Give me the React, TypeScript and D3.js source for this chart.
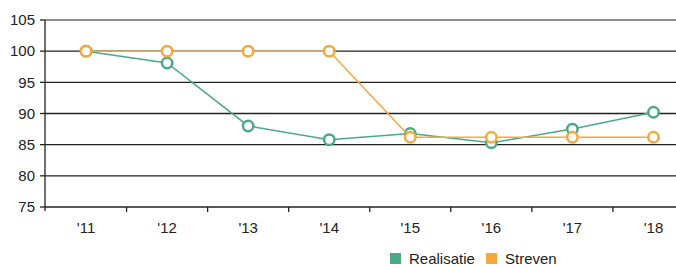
import React from "react";
import * as d3 from "d3";

const categories = ["'11", "'12", "'13", "'14", "'15", "'16", "'17", "'18"];
const realisatie = [100, 98.1, 88.0, 85.8, 86.8, 85.3, 87.5, 90.2];
const streven = [100, 100, 100, 100, 86.2, 86.2, 86.2, 86.2];
const yTicks = [75, 80, 85, 90, 95, 100, 105];
const seriesNames = ["Realisatie", "Streven"];

const W = 676;
const H = 268;
const colors = ["#4aaa88", "#f7a83a"];

export default function App() {
  const x = d3.scaleBand<string>().domain(categories).range([45.5, 694]);
  const y = d3.scaleLinear().domain([75, 105]).range([207, 20]);
  const cx = (c: string) => (x(c) as number) + x.bandwidth() / 2;
  const line = d3
    .line<number>()
    .x((_, i) => cx(categories[i]))
    .y((d) => y(d));
  const series = [realisatie, streven];
  const font = "'Liberation Sans', Arial, sans-serif";
  return (
    <svg
      width={W}
      height={H}
      style={{ position: "absolute", left: 0, top: 0, fontFamily: font }}
    >
      {yTicks.map((t) => (
        <g key={t}>
          {t !== 75 && (
            <line x1={45} x2={W} y1={y(t)} y2={y(t)} stroke={t === 105 ? "#666" : "#222"} strokeWidth={1.3} />
          )}
          <line x1={40} x2={45} y1={y(t)} y2={y(t)} stroke="#222" strokeWidth={1.3} />
          <text x={35} y={y(t)} dy="0.35em" textAnchor="end" fontSize={15} fill="#222">
            {t}
          </text>
        </g>
      ))}
      <line x1={45} x2={45} y1={y(105)} y2={211} stroke="#222" strokeWidth={1.3} />
      <line x1={45} x2={W} y1={y(75)} y2={y(75)} stroke="#222" strokeWidth={1.3} />
      {categories.slice(1).map((c) => (
        <line key={c} x1={x(c) as number} x2={x(c) as number} y1={207} y2={212} stroke="#222" strokeWidth={1.3} />
      ))}
      {categories.map((c) => (
        <text key={c} x={cx(c)} y={233} textAnchor="middle" fontSize={15} fill="#222">
          {c}
        </text>
      ))}
      {series.map((s, si) => (
        <g key={si}>
          <path d={line(s) as string} fill="none" stroke={colors[si]} strokeWidth={1.5} />
          {s.map((v, i) => (
            <circle key={i} cx={cx(categories[i])} cy={y(v)} r={5.2} fill="#fff" stroke={colors[si]} strokeWidth={2.5} />
          ))}
        </g>
      ))}
      {seriesNames.map((n, i) => {
        const lx = i === 0 ? 390 : 486;
        return (
          <g key={n}>
            <rect x={lx} y={253} width={11} height={11} fill={colors[i]} />
            <text x={lx + 19} y={263.5} fontSize={15} fill="#222">
              {n}
            </text>
          </g>
        );
      })}
    </svg>
  );
}
